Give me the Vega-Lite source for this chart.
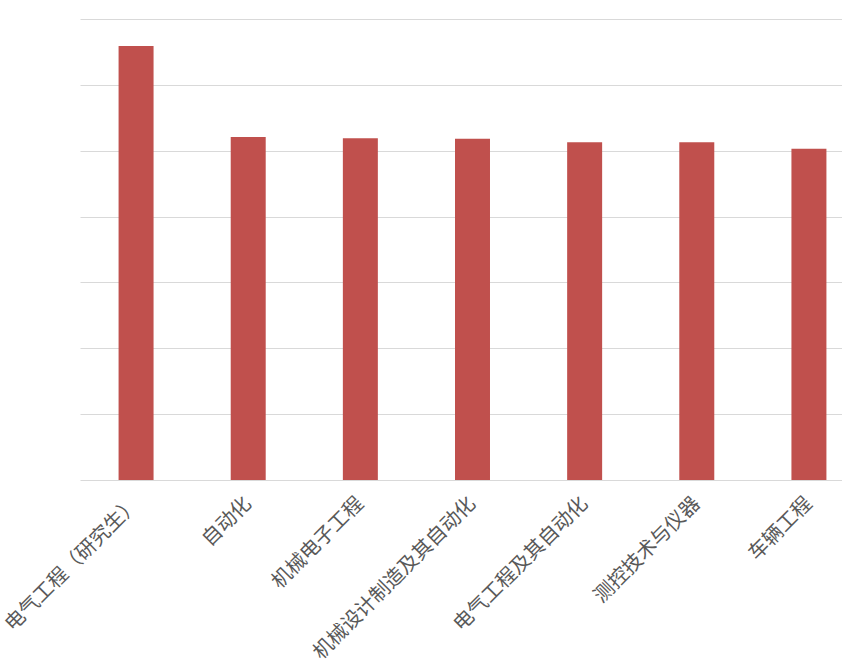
{
  "$schema": "https://vega.github.io/schema/vega-lite/v6.json",
  "width": 762,
  "height": 461,
  "autosize": {"type": "none"},
  "padding": {"left": 80, "top": 19, "right": 0, "bottom": 189},
  "background": "white",
  "config": {"view": {"stroke": null}},
  "data": {
    "values": [
      {"name": "电气工程（研究生）", "value": 6.59},
      {"name": "自动化", "value": 5.21},
      {"name": "机械电子工程", "value": 5.19},
      {"name": "机械设计制造及其自动化", "value": 5.18},
      {"name": "电气工程及其自动化", "value": 5.13},
      {"name": "测控技术与仪器", "value": 5.13},
      {"name": "车辆工程", "value": 5.03}
    ]
  },
  "mark": {"type": "bar", "color": "#c0504d"},
  "encoding": {
    "x": {
      "field": "name",
      "type": "nominal",
      "sort": null,
      "scale": {"paddingInner": 0.688, "paddingOuter": 0.344, "range": [0, 785]},
      "axis": {
        "title": null,
        "labelAngle": -45,
        "labelAlign": "right",
        "labelBaseline": "middle",
        "labelFont": "Noto Sans CJK SC",
        "labelFontSize": 20,
        "labelColor": "#595959",
        "labelPadding": 20,
        "labelLimit": 400,
        "domain": false,
        "ticks": false
      }
    },
    "y": {
      "field": "value",
      "type": "quantitative",
      "scale": {"domain": [0, 7], "nice": false},
      "axis": {
        "title": null,
        "labels": false,
        "ticks": false,
        "domain": false,
        "tickCount": 7,
        "gridColor": "#d9d9d9",
        "gridWidth": 1
      }
    }
  }
}
